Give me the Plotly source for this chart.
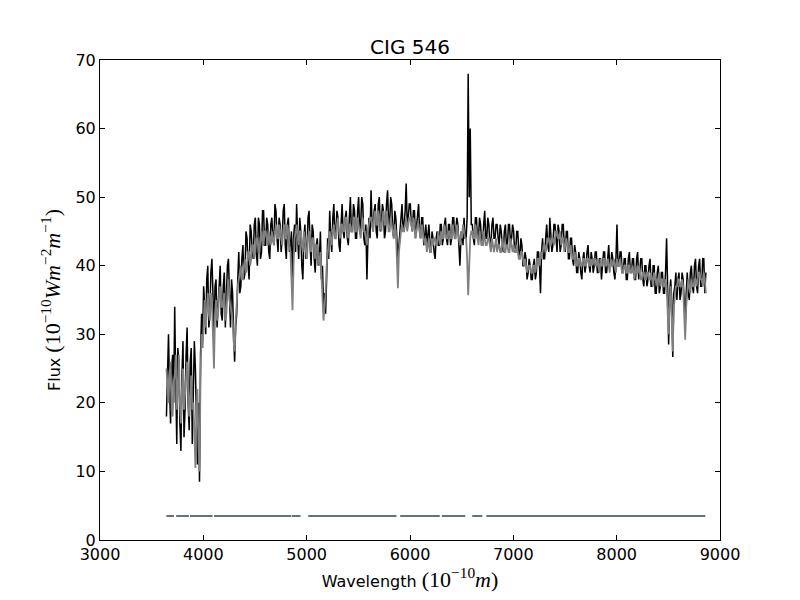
import plotly.graph_objects as go

# Sampling grid of the spectrum (Angstrom)
WL_START = 3643
WL_STEP = 10

# Observed flux (black)
obs_flux = [
    18, 24, 30, 22, 17, 25, 27, 20, 34, 23,
    14, 28, 26, 17, 13, 24, 29, 15, 19, 27,
    31, 20, 16, 26, 28, 14, 21, 29, 25, 17,
    11, 20, 8.5, 27, 33, 29, 37, 34, 30, 38,
    40, 31, 33, 39, 41, 36, 29, 37, 38, 31,
    34, 39, 40, 33, 32, 37, 39, 31, 35, 40,
    41, 34, 31, 38, 36, 30, 26, 31, 33, 38,
    42, 36, 37, 41, 43, 38, 39, 45, 44, 40,
    38, 46, 45, 42, 41, 46, 47, 42, 40, 47,
    46, 41, 42, 48, 48, 43, 43, 47, 46, 42,
    41, 46, 47, 44, 43, 49, 48, 44, 42, 47,
    46, 42, 44, 48, 49, 43, 41, 46, 47, 42,
    43, 45, 37, 44, 46, 42, 49, 44, 41, 47,
    45, 40, 38, 44, 46, 41, 42, 47, 48, 43,
    40, 46, 45, 41, 39, 43, 44, 40, 41, 45,
    38, 40, 34, 36, 33, 38, 44, 41, 48, 44,
    42, 47, 49, 44, 45, 48, 47, 43, 42, 46,
    49, 45, 44, 47, 48, 44, 43, 47, 50, 45,
    45, 49, 48, 44, 44, 48, 50, 45, 46, 50,
    49, 44, 43, 46, 38, 44, 47, 44, 51, 46,
    45, 48, 49, 45, 44, 49, 50, 45, 46, 49,
    48, 44, 45, 49, 51, 46, 46, 50, 49, 45,
    44, 48, 47, 44, 41, 43, 45, 47, 49, 45,
    46, 48, 52, 46, 47, 49, 49, 46, 45, 48,
    48, 44, 46, 48, 49, 45, 44, 47, 47, 43,
    45, 46, 43, 45, 46, 43, 42, 45, 44, 42,
    41, 44, 45, 43, 43, 46, 46, 43, 44, 46,
    47, 44, 43, 46, 46, 43, 44, 47, 47, 44,
    45, 47, 46, 43, 40, 44, 45, 43, 47, 44,
    44, 47, 68, 50, 60, 46, 46, 44, 43, 47,
    47, 44, 44, 47, 46, 43, 43, 46, 48, 44,
    44, 47, 46, 43, 43, 46, 47, 44, 44, 46,
    46, 44, 43, 46, 45, 43, 42, 45, 46, 43,
    43, 46, 46, 43, 44, 46, 45, 42, 42, 45,
    45, 42, 41, 44, 43, 40, 40, 42, 41, 38,
    39, 41, 40, 38, 38, 40, 41, 38, 39, 42,
    42, 40, 36, 42, 44, 41, 41, 44, 46, 43,
    42, 47, 45, 42, 43, 46, 46, 43, 42, 46,
    45, 42, 43, 46, 46, 43, 42, 45, 45, 41,
    41, 44, 44, 41, 40, 43, 42, 39, 39, 42,
    41, 39, 38, 41, 42, 39, 40, 42, 43, 40,
    39, 42, 41, 39, 40, 42, 42, 39, 39, 41,
    41, 38, 40, 42, 42, 39, 39, 42, 43, 40,
    40, 42, 41, 39, 38, 41, 46, 40, 40, 42,
    42, 39, 39, 41, 41, 38, 38, 41, 42, 39,
    39, 41, 41, 38, 38, 41, 42, 38, 39, 41,
    41, 38, 37, 40, 40, 37, 38, 40, 41, 37,
    37, 40, 40, 36, 36, 39, 40, 36, 37, 39,
    39, 36, 36, 39, 44, 37, 28.5, 36, 38, 35,
    26.7, 36, 37, 39, 35, 38, 39, 35, 36, 39,
    38, 35, 31, 36, 39, 36, 35, 39, 40, 37,
    36, 40, 41, 37, 36, 40, 41, 37, 37, 41,
    41, 36, 39,
]

# Model / fitted flux (grey)
model_flux = [
    25, 22, 20, 24, 26, 19, 18, 23, 24, 27,
    19, 22, 27, 20, 17, 22, 25, 19, 21, 24,
    26, 22, 18, 21, 24, 19, 20, 16, 10.5, 18,
    22, 14, 10, 24, 30, 28, 33, 35, 31, 34,
    36, 33, 32, 36, 35, 30, 25, 33, 35, 32,
    33, 36, 37, 34, 34, 35, 36, 32, 33, 36,
    38, 35, 34, 33, 32, 29, 27.5, 32, 35, 37,
    38, 39, 40, 38, 38, 40, 41, 39, 40, 42,
    42, 40, 41, 43, 43, 41, 42, 44, 44, 42,
    42, 44, 45, 43, 43, 45, 45, 44, 43, 45,
    44, 43, 45, 44, 43, 45, 46, 44, 44, 46,
    45, 44, 43, 45, 46, 44, 44, 46, 45, 43,
    42, 38, 33.5, 40, 44, 45, 46, 44, 43, 45,
    45, 43, 42, 45, 44, 42, 41, 44, 45, 43,
    42, 44, 44, 42, 41, 43, 43, 41, 40, 42,
    39, 36, 32, 34, 36, 40, 42, 44, 45, 44,
    43, 45, 46, 44, 44, 46, 47, 45, 44, 46,
    46, 45, 45, 47, 47, 45, 44, 46, 46, 45,
    45, 47, 47, 45, 45, 47, 46, 45, 44, 46,
    47, 45, 45, 44, 43, 45, 46, 47, 47, 46,
    45, 47, 48, 46, 46, 48, 47, 46, 45, 47,
    48, 46, 46, 48, 47, 45, 45, 47, 46, 45,
    44, 46, 45, 41, 36.7, 42, 44, 45, 46, 45,
    45, 46, 47, 45, 46, 47, 47, 46, 45, 47,
    46, 44, 45, 46, 46, 45, 44, 46, 45, 44,
    43, 44, 42, 43, 44, 42, 42, 44, 43, 44,
    44, 43, 43, 45, 44, 43, 45, 44, 44, 46,
    45, 44, 44, 45, 45, 44, 44, 46, 45, 44,
    44, 46, 45, 44, 43, 45, 44, 46, 45, 44,
    44, 41, 35.7, 42, 44, 45, 45, 44, 44, 46,
    45, 44, 43, 45, 44, 43, 43, 45, 44, 43,
    43, 44, 44, 43, 42, 44, 43, 42, 43, 44,
    42, 43, 43, 42, 42, 44, 43, 42, 42, 43,
    43, 42, 42, 44, 43, 42, 43, 42, 42, 43,
    42, 41, 41, 42, 42, 41, 40, 41, 40, 39,
    39.5, 40, 40, 39, 39, 40, 40, 39, 40, 41,
    41, 40, 42, 41, 42, 43, 43, 42, 43, 44,
    44, 43, 43, 44, 44, 43, 44, 45, 45, 44,
    44, 45, 43, 44, 44, 42, 43, 44, 43, 42,
    42, 43, 42, 41, 41, 42, 41, 40, 40, 41,
    41, 40, 40, 41, 41, 40, 40, 41, 41, 40,
    40, 41, 40, 41, 41, 40, 40, 41, 40, 39,
    41, 40, 40, 41, 41, 40, 40, 41, 40, 39,
    41, 40, 40, 41, 40, 39, 41, 40, 40, 41,
    40, 39, 39, 40, 40, 39, 39, 40, 40, 39,
    39, 40, 39, 38, 40, 39, 39, 40, 39, 38,
    38, 39, 39, 38, 38, 39, 39, 38, 38, 39,
    38, 37, 39, 38, 38, 37, 38, 39, 37, 38,
    38, 37, 37, 38, 37, 34, 30, 35, 37, 32,
    27.5, 34, 36, 37, 37, 38, 38, 37, 37, 38,
    37, 33, 29.2, 34, 36, 38, 37, 36, 38, 37,
    37, 38, 38, 37, 38, 39, 39, 38, 38, 37,
    39, 38, 36,
]

# Masked (fitted) wavelength ranges, drawn as a bar near the bottom
mask_starts = [3642, 3737, 3871, 4103, 4856, 5015, 5905, 6308, 6602, 6739]
mask_ends = [3716, 3860, 4089, 4850, 4941, 5869, 6288, 6535, 6700, 8858]
mask_level = 3.5

wl = [WL_START + i * WL_STEP for i in range(len(obs_flux))]

mx, my = [], []
for s, e in zip(mask_starts, mask_ends):
    mx += [s, e, None]
    my += [mask_level, mask_level, None]

fig = go.Figure()
fig.add_trace(go.Scatter(x=wl, y=obs_flux, mode="lines",
                         line=dict(color="black", width=1.5), hoverinfo="skip"))
fig.add_trace(go.Scatter(x=wl, y=model_flux, mode="lines",
                         line=dict(color="#808080", width=1.8), hoverinfo="skip"))
fig.add_trace(go.Scatter(x=mx, y=my, mode="lines",
                         line=dict(color="#65737a", width=2), hoverinfo="skip"))

math = "font-family:'Liberation Serif', 'DejaVu Serif', serif; font-size:22px"
# The page body has an 8px margin, so the figure is 8px smaller on each axis
fig.update_layout(
    width=792, height=592,
    margin=dict(l=92, r=80, t=52, b=60),
    paper_bgcolor="white", plot_bgcolor="white",
    showlegend=False,
    font=dict(family="DejaVu Sans", size=16, color="black"),
    title=dict(text="CIG 546", x=0.5, xanchor="center", xref="paper",
               y=1, yref="paper", yanchor="bottom", pad=dict(b=6),
               font=dict(family="DejaVu Sans", size=20, color="black")),
)
fig.update_xaxes(
    range=[3000, 9000], dtick=1000, tick0=3000,
    showline=True, linecolor="black", linewidth=1, mirror="ticks",
    ticks="inside", ticklen=5, tickcolor="black",
    showgrid=False, zeroline=False,
    tickfont=dict(size=16),
    title=dict(text=f"Wavelength <span style=\"{math}\">(10<sup>−10</sup><i>m</i>)</span>",
               standoff=6, font=dict(size=16)),
)
fig.update_yaxes(
    range=[0, 70], dtick=10, tick0=0,
    showline=True, linecolor="black", linewidth=1, mirror="ticks",
    ticks="inside", ticklen=5, tickcolor="black",
    showgrid=False, zeroline=False,
    tickfont=dict(size=16),
    title=dict(text=f"Flux <span style=\"{math}\">(10<sup>−10</sup><i>Wm</i><sup>−2</sup><i>m</i><sup>−1</sup>)</span>",
               standoff=10, font=dict(size=16)),
)

fig.write_html("out.html")
